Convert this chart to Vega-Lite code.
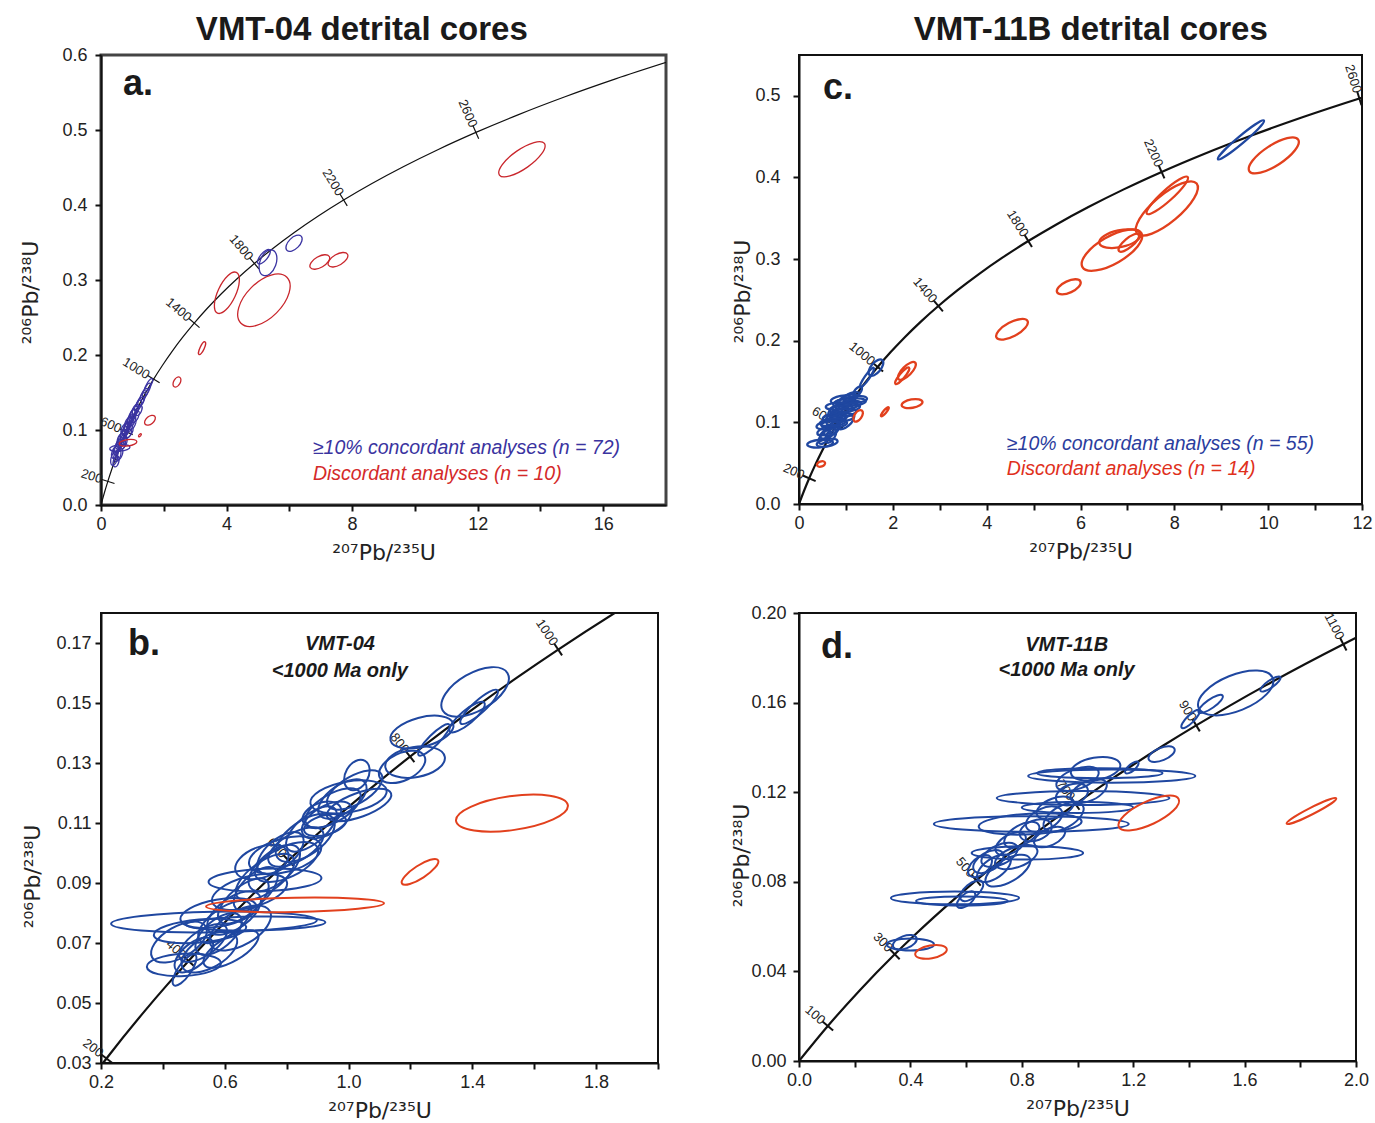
{
  "$schema": "https://vega.github.io/schema/vega-lite/v6.json",
  "autosize": {"type": "pad"},
  "padding": {"left": 17, "top": 12, "right": 5, "bottom": 5},
  "background": "white",
  "columns": 2,
  "bounds": "flush",
  "spacing": {"row": 108, "column": 133},
  "resolve": {"scale": {"color": "independent", "size": "independent", "shape": "independent", "angle": "independent"}},
  "config": {
    "font": "Liberation Sans",
    "view": {"stroke": "#111", "strokeWidth": 2},
    "axis": {"grid": false, "domainColor": "#111", "domainWidth": 2, "tickColor": "#111", "tickWidth": 2, "tickSize": 6,
      "labelFont": "Liberation Sans", "labelFontSize": 18, "labelColor": "#222",
      "titleFont": "DejaVu Sans", "titleFontSize": 22, "titleFontWeight": "normal", "titleColor": "#222",
      "labelPadding": 4, "labelFlush": false, "labelOverlap": false}
  },
  "datasets": {
    "concordia": [
      {"age": 0, "pb207u235": 0, "pb206u238": 0},
      {"age": 100, "pb207u235": 0.1035, "pb206u238": 0.015633},
      {"age": 200, "pb207u235": 0.21771, "pb206u238": 0.031511},
      {"age": 300, "pb207u235": 0.34374, "pb206u238": 0.047637},
      {"age": 350, "pb207u235": 0.41157, "pb206u238": 0.05579},
      {"age": 400, "pb207u235": 0.48281, "pb206u238": 0.064015},
      {"age": 450, "pb207u235": 0.55765, "pb206u238": 0.0723},
      {"age": 500, "pb207u235": 0.63628, "pb206u238": 0.080649},
      {"age": 550, "pb207u235": 0.71887, "pb206u238": 0.08907},
      {"age": 600, "pb207u235": 0.80563, "pb206u238": 0.097543},
      {"age": 650, "pb207u235": 0.89677, "pb206u238": 0.10609},
      {"age": 700, "pb207u235": 0.99251, "pb206u238": 0.114701},
      {"age": 750, "pb207u235": 1.09309, "pb206u238": 0.12338},
      {"age": 800, "pb207u235": 1.19873, "pb206u238": 0.132128},
      {"age": 850, "pb207u235": 1.3097, "pb206u238": 0.14094},
      {"age": 900, "pb207u235": 1.42629, "pb206u238": 0.149827},
      {"age": 950, "pb207u235": 1.54876, "pb206u238": 0.15878},
      {"age": 1000, "pb207u235": 1.6774, "pb206u238": 0.167802},
      {"age": 1100, "pb207u235": 1.95451, "pb206u238": 0.186059},
      {"age": 1200, "pb207u235": 2.26029, "pb206u238": 0.204601},
      {"age": 1300, "pb207u235": 2.59772, "pb206u238": 0.223433},
      {"age": 1400, "pb207u235": 2.97009, "pb206u238": 0.242558},
      {"age": 1500, "pb207u235": 3.381, "pb206u238": 0.261984},
      {"age": 1600, "pb207u235": 3.8344, "pb206u238": 0.281714},
      {"age": 1700, "pb207u235": 4.33475, "pb206u238": 0.301752},
      {"age": 1800, "pb207u235": 4.88689, "pb206u238": 0.322102},
      {"age": 1900, "pb207u235": 5.49617, "pb206u238": 0.342771},
      {"age": 2000, "pb207u235": 6.16849, "pb206u238": 0.363762},
      {"age": 2100, "pb207u235": 6.91041, "pb206u238": 0.385082},
      {"age": 2200, "pb207u235": 7.72912, "pb206u238": 0.406736},
      {"age": 2300, "pb207u235": 8.63256, "pb206u238": 0.428728},
      {"age": 2400, "pb207u235": 9.6295, "pb206u238": 0.451064},
      {"age": 2500, "pb207u235": 10.72962, "pb206u238": 0.473749},
      {"age": 2600, "pb207u235": 11.94362, "pb206u238": 0.496788},
      {"age": 2700, "pb207u235": 13.28325, "pb206u238": 0.520188},
      {"age": 2800, "pb207u235": 14.7616, "pb206u238": 0.54395},
      {"age": 2900, "pb207u235": 16.39292, "pb206u238": 0.568087},
      {"age": 3000, "pb207u235": 18.19315, "pb206u238": 0.592604}
    ],
    "agemarks": [
      {"panel": "a", "age": 200, "pb207u235": 0.21771, "pb206u238": 0.031511, "normal": 17.4},
      {"panel": "a", "age": 600, "pb207u235": 0.80563, "pb206u238": 0.097543, "normal": 23.6},
      {"panel": "a", "age": 1000, "pb207u235": 1.6774, "pb206u238": 0.167802, "normal": 31.4},
      {"panel": "a", "age": 1400, "pb207u235": 2.97009, "pb206u238": 0.242558, "normal": 40.4},
      {"panel": "a", "age": 1800, "pb207u235": 4.88689, "pb206u238": 0.322102, "normal": 49.8},
      {"panel": "a", "age": 2200, "pb207u235": 7.72912, "pb206u238": 0.406736, "normal": 58.8},
      {"panel": "a", "age": 2600, "pb207u235": 11.94362, "pb206u238": 0.496788, "normal": 66.5},
      {"panel": "c", "age": 200, "pb207u235": 0.21771, "pb206u238": 0.031511, "normal": 23.3},
      {"panel": "c", "age": 600, "pb207u235": 0.80563, "pb206u238": 0.097543, "normal": 31.0},
      {"panel": "c", "age": 1000, "pb207u235": 1.6774, "pb206u238": 0.167802, "normal": 39.9},
      {"panel": "c", "age": 1400, "pb207u235": 2.97009, "pb206u238": 0.242558, "normal": 49.4},
      {"panel": "c", "age": 1800, "pb207u235": 4.88689, "pb206u238": 0.322102, "normal": 58.4},
      {"panel": "c", "age": 2200, "pb207u235": 7.72912, "pb206u238": 0.406736, "normal": 66.2},
      {"panel": "c", "age": 2600, "pb207u235": 11.94362, "pb206u238": 0.496788, "normal": 72.4},
      {"panel": "b", "age": 200, "pb207u235": 0.21771, "pb206u238": 0.031511, "normal": 37.7},
      {"panel": "b", "age": 400, "pb207u235": 0.48281, "pb206u238": 0.064015, "normal": 42.4},
      {"panel": "b", "age": 600, "pb207u235": 0.80563, "pb206u238": 0.097543, "normal": 47.1},
      {"panel": "b", "age": 800, "pb207u235": 1.19873, "pb206u238": 0.132128, "normal": 51.8},
      {"panel": "b", "age": 1000, "pb207u235": 1.6774, "pb206u238": 0.167802, "normal": 56.3},
      {"panel": "d", "age": 100, "pb207u235": 0.1035, "pb206u238": 0.015633, "normal": 40.6},
      {"panel": "d", "age": 300, "pb207u235": 0.34374, "pb206u238": 0.047637, "normal": 45.3},
      {"panel": "d", "age": 500, "pb207u235": 0.63628, "pb206u238": 0.080649, "normal": 50.0},
      {"panel": "d", "age": 700, "pb207u235": 0.99251, "pb206u238": 0.114701, "normal": 54.6},
      {"panel": "d", "age": 900, "pb207u235": 1.42629, "pb206u238": 0.149827, "normal": 59.0},
      {"panel": "d", "age": 1100, "pb207u235": 1.95451, "pb206u238": 0.186059, "normal": 63.0}
    ],
    "ellipses": [
      {"panel": "a", "kind": "concordant", "pb207u235": 0.42, "pb206u238": 0.062, "len": 0.45, "aspect": 0.45, "tilt": 75},
      {"panel": "a", "kind": "concordant", "pb207u235": 0.45, "pb206u238": 0.07, "len": 0.4, "aspect": 0.5, "tilt": 70},
      {"panel": "a", "kind": "concordant", "pb207u235": 0.5, "pb206u238": 0.074, "len": 0.35, "aspect": 0.5, "tilt": 65},
      {"panel": "a", "kind": "concordant", "pb207u235": 0.55, "pb206u238": 0.078, "len": 0.45, "aspect": 0.4, "tilt": 70},
      {"panel": "a", "kind": "concordant", "pb207u235": 0.6, "pb206u238": 0.082, "len": 0.4, "aspect": 0.5, "tilt": 60},
      {"panel": "a", "kind": "concordant", "pb207u235": 0.62, "pb206u238": 0.088, "len": 0.35, "aspect": 0.5, "tilt": 70},
      {"panel": "a", "kind": "concordant", "pb207u235": 0.68, "pb206u238": 0.091, "len": 0.45, "aspect": 0.4, "tilt": 65},
      {"panel": "a", "kind": "concordant", "pb207u235": 0.72, "pb206u238": 0.094, "len": 0.35, "aspect": 0.5, "tilt": 70},
      {"panel": "a", "kind": "concordant", "pb207u235": 0.76, "pb206u238": 0.097, "len": 0.4, "aspect": 0.45, "tilt": 65},
      {"panel": "a", "kind": "concordant", "pb207u235": 0.8, "pb206u238": 0.1, "len": 0.45, "aspect": 0.4, "tilt": 70},
      {"panel": "a", "kind": "concordant", "pb207u235": 0.83, "pb206u238": 0.104, "len": 0.35, "aspect": 0.5, "tilt": 60},
      {"panel": "a", "kind": "concordant", "pb207u235": 0.86, "pb206u238": 0.108, "len": 0.45, "aspect": 0.45, "tilt": 70},
      {"panel": "a", "kind": "concordant", "pb207u235": 0.9, "pb206u238": 0.111, "len": 0.4, "aspect": 0.4, "tilt": 65},
      {"panel": "a", "kind": "concordant", "pb207u235": 0.95, "pb206u238": 0.114, "len": 0.35, "aspect": 0.5, "tilt": 70},
      {"panel": "a", "kind": "concordant", "pb207u235": 0.98, "pb206u238": 0.118, "len": 0.45, "aspect": 0.4, "tilt": 65},
      {"panel": "a", "kind": "concordant", "pb207u235": 1.02, "pb206u238": 0.121, "len": 0.35, "aspect": 0.5, "tilt": 70},
      {"panel": "a", "kind": "concordant", "pb207u235": 1.06, "pb206u238": 0.124, "len": 0.4, "aspect": 0.45, "tilt": 65},
      {"panel": "a", "kind": "concordant", "pb207u235": 1.1, "pb206u238": 0.127, "len": 0.35, "aspect": 0.5, "tilt": 70},
      {"panel": "a", "kind": "concordant", "pb207u235": 1.18, "pb206u238": 0.132, "len": 0.4, "aspect": 0.4, "tilt": 65},
      {"panel": "a", "kind": "concordant", "pb207u235": 1.25, "pb206u238": 0.137, "len": 0.35, "aspect": 0.5, "tilt": 60},
      {"panel": "a", "kind": "concordant", "pb207u235": 1.3, "pb206u238": 0.141, "len": 0.45, "aspect": 0.35, "tilt": 65},
      {"panel": "a", "kind": "concordant", "pb207u235": 1.38, "pb206u238": 0.148, "len": 0.4, "aspect": 0.4, "tilt": 60},
      {"panel": "a", "kind": "concordant", "pb207u235": 1.45, "pb206u238": 0.153, "len": 0.5, "aspect": 0.3, "tilt": 62},
      {"panel": "a", "kind": "concordant", "pb207u235": 1.52, "pb206u238": 0.16, "len": 0.45, "aspect": 0.3, "tilt": 60},
      {"panel": "a", "kind": "concordant", "pb207u235": 0.52, "pb206u238": 0.066, "len": 0.4, "aspect": 0.5, "tilt": 70},
      {"panel": "a", "kind": "concordant", "pb207u235": 0.7, "pb206u238": 0.086, "len": 0.4, "aspect": 0.45, "tilt": 70},
      {"panel": "a", "kind": "concordant", "pb207u235": 0.92, "pb206u238": 0.105, "len": 0.4, "aspect": 0.4, "tilt": 70},
      {"panel": "a", "kind": "concordant", "pb207u235": 0.6, "pb206u238": 0.076, "len": 0.65, "aspect": 0.3, "tilt": 5},
      {"panel": "a", "kind": "concordant", "pb207u235": 0.48, "pb206u238": 0.058, "len": 0.35, "aspect": 0.5, "tilt": 75},
      {"panel": "a", "kind": "concordant", "pb207u235": 0.75, "pb206u238": 0.102, "len": 0.35, "aspect": 0.5, "tilt": 65},
      {"panel": "a", "kind": "concordant", "pb207u235": 1.0, "pb206u238": 0.113, "len": 0.35, "aspect": 0.5, "tilt": 70},
      {"panel": "a", "kind": "concordant", "pb207u235": 0.7, "pb206u238": 0.082, "len": 0.4, "aspect": 0.5, "tilt": 60},
      {"panel": "a", "kind": "concordant", "pb207u235": 0.9, "pb206u238": 0.098, "len": 0.4, "aspect": 0.5, "tilt": 65},
      {"panel": "a", "kind": "concordant", "pb207u235": 1.1, "pb206u238": 0.118, "len": 0.4, "aspect": 0.45, "tilt": 65},
      {"panel": "a", "kind": "concordant", "pb207u235": 0.58, "pb206u238": 0.068, "len": 0.4, "aspect": 0.5, "tilt": 70},
      {"panel": "a", "kind": "concordant", "pb207u235": 0.85, "pb206u238": 0.095, "len": 0.35, "aspect": 0.55, "tilt": 60},
      {"panel": "a", "kind": "concordant", "pb207u235": 1.2, "pb206u238": 0.126, "len": 0.35, "aspect": 0.5, "tilt": 65},
      {"panel": "a", "kind": "concordant", "pb207u235": 0.66, "pb206u238": 0.079, "len": 0.35, "aspect": 0.55, "tilt": 60},
      {"panel": "a", "kind": "concordant", "pb207u235": 1.0, "pb206u238": 0.108, "len": 0.4, "aspect": 0.45, "tilt": 65},
      {"panel": "a", "kind": "concordant", "pb207u235": 5.19, "pb206u238": 0.331, "len": 0.57, "aspect": 0.4, "tilt": 50},
      {"panel": "a", "kind": "concordant", "pb207u235": 5.32, "pb206u238": 0.323, "len": 0.86, "aspect": 0.6, "tilt": 70},
      {"panel": "a", "kind": "concordant", "pb207u235": 6.15, "pb206u238": 0.349, "len": 0.64, "aspect": 0.55, "tilt": 45},
      {"panel": "a", "kind": "discordant", "pb207u235": 13.41, "pb206u238": 0.461, "len": 1.75, "aspect": 0.35, "tilt": 35},
      {"panel": "a", "kind": "discordant", "pb207u235": 5.19, "pb206u238": 0.273, "len": 2.07, "aspect": 0.55, "tilt": 45},
      {"panel": "a", "kind": "discordant", "pb207u235": 4.01, "pb206u238": 0.283, "len": 1.43, "aspect": 0.4, "tilt": 65},
      {"panel": "a", "kind": "discordant", "pb207u235": 6.97, "pb206u238": 0.324, "len": 0.7, "aspect": 0.5, "tilt": 30},
      {"panel": "a", "kind": "discordant", "pb207u235": 7.55, "pb206u238": 0.327, "len": 0.7, "aspect": 0.5, "tilt": 30},
      {"panel": "a", "kind": "discordant", "pb207u235": 3.22, "pb206u238": 0.209, "len": 0.45, "aspect": 0.3, "tilt": 65},
      {"panel": "a", "kind": "discordant", "pb207u235": 2.42, "pb206u238": 0.164, "len": 0.35, "aspect": 0.6, "tilt": 60},
      {"panel": "a", "kind": "discordant", "pb207u235": 1.56, "pb206u238": 0.113, "len": 0.4, "aspect": 0.6, "tilt": 40},
      {"panel": "a", "kind": "discordant", "pb207u235": 1.24, "pb206u238": 0.093, "len": 0.12, "aspect": 0.5, "tilt": 50},
      {"panel": "a", "kind": "discordant", "pb207u235": 0.86, "pb206u238": 0.083, "len": 0.57, "aspect": 0.35, "tilt": 8},

      {"panel": "c", "kind": "concordant", "pb207u235": 0.45, "pb206u238": 0.074, "len": 0.55, "aspect": 0.3, "tilt": 5},
      {"panel": "c", "kind": "concordant", "pb207u235": 0.6, "pb206u238": 0.075, "len": 0.45, "aspect": 0.35, "tilt": 10},
      {"panel": "c", "kind": "concordant", "pb207u235": 0.55, "pb206u238": 0.082, "len": 0.35, "aspect": 0.5, "tilt": 50},
      {"panel": "c", "kind": "concordant", "pb207u235": 0.65, "pb206u238": 0.088, "len": 0.45, "aspect": 0.4, "tilt": 30},
      {"panel": "c", "kind": "concordant", "pb207u235": 0.7, "pb206u238": 0.092, "len": 0.4, "aspect": 0.5, "tilt": 40},
      {"panel": "c", "kind": "concordant", "pb207u235": 0.62, "pb206u238": 0.097, "len": 0.5, "aspect": 0.35, "tilt": 10},
      {"panel": "c", "kind": "concordant", "pb207u235": 0.75, "pb206u238": 0.098, "len": 0.55, "aspect": 0.3, "tilt": 5},
      {"panel": "c", "kind": "concordant", "pb207u235": 0.8, "pb206u238": 0.103, "len": 0.45, "aspect": 0.4, "tilt": 20},
      {"panel": "c", "kind": "concordant", "pb207u235": 0.7, "pb206u238": 0.106, "len": 0.4, "aspect": 0.4, "tilt": 10},
      {"panel": "c", "kind": "concordant", "pb207u235": 0.88, "pb206u238": 0.106, "len": 0.6, "aspect": 0.3, "tilt": 5},
      {"panel": "c", "kind": "concordant", "pb207u235": 0.85, "pb206u238": 0.11, "len": 0.45, "aspect": 0.4, "tilt": 30},
      {"panel": "c", "kind": "concordant", "pb207u235": 0.95, "pb206u238": 0.112, "len": 0.55, "aspect": 0.3, "tilt": 8},
      {"panel": "c", "kind": "concordant", "pb207u235": 0.9, "pb206u238": 0.116, "len": 0.5, "aspect": 0.35, "tilt": 5},
      {"panel": "c", "kind": "concordant", "pb207u235": 1.0, "pb206u238": 0.118, "len": 0.6, "aspect": 0.3, "tilt": 5},
      {"panel": "c", "kind": "concordant", "pb207u235": 1.05, "pb206u238": 0.121, "len": 0.55, "aspect": 0.3, "tilt": 10},
      {"panel": "c", "kind": "concordant", "pb207u235": 0.95, "pb206u238": 0.124, "len": 0.45, "aspect": 0.35, "tilt": 10},
      {"panel": "c", "kind": "concordant", "pb207u235": 1.1, "pb206u238": 0.125, "len": 0.65, "aspect": 0.25, "tilt": 3},
      {"panel": "c", "kind": "concordant", "pb207u235": 1.05, "pb206u238": 0.129, "len": 0.4, "aspect": 0.4, "tilt": 20},
      {"panel": "c", "kind": "concordant", "pb207u235": 1.2, "pb206u238": 0.128, "len": 0.5, "aspect": 0.3, "tilt": 5},
      {"panel": "c", "kind": "concordant", "pb207u235": 1.0, "pb206u238": 0.1, "len": 0.4, "aspect": 0.45, "tilt": 40},
      {"panel": "c", "kind": "concordant", "pb207u235": 1.25, "pb206u238": 0.138, "len": 0.25, "aspect": 0.5, "tilt": 50},
      {"panel": "c", "kind": "concordant", "pb207u235": 0.78, "pb206u238": 0.114, "len": 0.35, "aspect": 0.5, "tilt": 30},
      {"panel": "c", "kind": "concordant", "pb207u235": 0.68, "pb206u238": 0.084, "len": 0.35, "aspect": 0.5, "tilt": 60},
      {"panel": "c", "kind": "concordant", "pb207u235": 0.58, "pb206u238": 0.09, "len": 0.4, "aspect": 0.4, "tilt": 20},
      {"panel": "c", "kind": "concordant", "pb207u235": 0.72, "pb206u238": 0.1, "len": 0.55, "aspect": 0.3, "tilt": 5},
      {"panel": "c", "kind": "concordant", "pb207u235": 0.82, "pb206u238": 0.12, "len": 0.5, "aspect": 0.3, "tilt": 5},
      {"panel": "c", "kind": "concordant", "pb207u235": 0.9, "pb206u238": 0.128, "len": 0.45, "aspect": 0.35, "tilt": 10},
      {"panel": "c", "kind": "concordant", "pb207u235": 1.12, "pb206u238": 0.132, "len": 0.35, "aspect": 0.4, "tilt": 20},
      {"panel": "c", "kind": "concordant", "pb207u235": 1.45, "pb206u238": 0.155, "len": 0.5, "aspect": 0.2, "tilt": 55},
      {"panel": "c", "kind": "concordant", "pb207u235": 1.64, "pb206u238": 0.167, "len": 0.42, "aspect": 0.5, "tilt": 50},
      {"panel": "c", "kind": "concordant", "pb207u235": 9.42, "pb206u238": 0.446, "len": 1.28, "aspect": 0.12, "tilt": 40},
      {"panel": "c", "kind": "discordant", "pb207u235": 10.12, "pb206u238": 0.427, "len": 1.24, "aspect": 0.35, "tilt": 33},
      {"panel": "c", "kind": "discordant", "pb207u235": 7.84, "pb206u238": 0.362, "len": 1.66, "aspect": 0.35, "tilt": 40},
      {"panel": "c", "kind": "discordant", "pb207u235": 7.85, "pb206u238": 0.378, "len": 1.17, "aspect": 0.2, "tilt": 42},
      {"panel": "c", "kind": "discordant", "pb207u235": 6.67, "pb206u238": 0.311, "len": 1.45, "aspect": 0.4, "tilt": 30},
      {"panel": "c", "kind": "discordant", "pb207u235": 6.84, "pb206u238": 0.325, "len": 0.9, "aspect": 0.4, "tilt": 12},
      {"panel": "c", "kind": "discordant", "pb207u235": 7.03, "pb206u238": 0.32, "len": 0.55, "aspect": 0.35, "tilt": 40},
      {"panel": "c", "kind": "discordant", "pb207u235": 5.75, "pb206u238": 0.266, "len": 0.55, "aspect": 0.45, "tilt": 25},
      {"panel": "c", "kind": "discordant", "pb207u235": 4.54, "pb206u238": 0.214, "len": 0.75, "aspect": 0.4, "tilt": 28},
      {"panel": "c", "kind": "discordant", "pb207u235": 2.3, "pb206u238": 0.163, "len": 0.5, "aspect": 0.4, "tilt": 45},
      {"panel": "c", "kind": "discordant", "pb207u235": 2.2, "pb206u238": 0.157, "len": 0.45, "aspect": 0.25, "tilt": 50},
      {"panel": "c", "kind": "discordant", "pb207u235": 2.41, "pb206u238": 0.123, "len": 0.45, "aspect": 0.4, "tilt": 10},
      {"panel": "c", "kind": "discordant", "pb207u235": 1.83, "pb206u238": 0.113, "len": 0.25, "aspect": 0.25, "tilt": 50},
      {"panel": "c", "kind": "discordant", "pb207u235": 1.26, "pb206u238": 0.108, "len": 0.28, "aspect": 0.55, "tilt": 55},
      {"panel": "c", "kind": "discordant", "pb207u235": 0.47, "pb206u238": 0.049, "len": 0.18, "aspect": 0.6, "tilt": 20},

      {"panel": "b", "kind": "concordant", "pb207u235": 1.409, "pb206u238": 0.1537, "len": 0.242, "aspect": 0.5, "tilt": 30},
      {"panel": "b", "kind": "concordant", "pb207u235": 1.422, "pb206u238": 0.1487, "len": 0.16, "aspect": 0.25, "tilt": 42},
      {"panel": "b", "kind": "concordant", "pb207u235": 1.383, "pb206u238": 0.1453, "len": 0.145, "aspect": 0.3, "tilt": 40},
      {"panel": "b", "kind": "concordant", "pb207u235": 1.237, "pb206u238": 0.1403, "len": 0.21, "aspect": 0.45, "tilt": 15},
      {"panel": "b", "kind": "concordant", "pb207u235": 1.276, "pb206u238": 0.1377, "len": 0.14, "aspect": 0.25, "tilt": 45},
      {"panel": "b", "kind": "concordant", "pb207u235": 1.215, "pb206u238": 0.1303, "len": 0.195, "aspect": 0.5, "tilt": 10},
      {"panel": "b", "kind": "concordant", "pb207u235": 1.173, "pb206u238": 0.1287, "len": 0.16, "aspect": 0.55, "tilt": 25},
      {"panel": "b", "kind": "concordant", "pb207u235": 1.027, "pb206u238": 0.126, "len": 0.105, "aspect": 0.7, "tilt": 60},
      {"panel": "b", "kind": "concordant", "pb207u235": 1.0, "pb206u238": 0.1187, "len": 0.25, "aspect": 0.4, "tilt": 10},
      {"panel": "b", "kind": "concordant", "pb207u235": 1.034, "pb206u238": 0.116, "len": 0.22, "aspect": 0.35, "tilt": 20},
      {"panel": "b", "kind": "concordant", "pb207u235": 0.914, "pb206u238": 0.1127, "len": 0.13, "aspect": 0.6, "tilt": 20},
      {"panel": "b", "kind": "concordant", "pb207u235": 0.924, "pb206u238": 0.1093, "len": 0.14, "aspect": 0.45, "tilt": 15},
      {"panel": "b", "kind": "concordant", "pb207u235": 0.565, "pb206u238": 0.077, "len": 0.665, "aspect": 0.1, "tilt": 1},
      {"panel": "b", "kind": "concordant", "pb207u235": 0.73, "pb206u238": 0.091, "len": 0.365, "aspect": 0.2, "tilt": 2},
      {"panel": "b", "kind": "concordant", "pb207u235": 0.795, "pb206u238": 0.0993, "len": 0.24, "aspect": 0.45, "tilt": 15},
      {"panel": "b", "kind": "concordant", "pb207u235": 0.468, "pb206u238": 0.0627, "len": 0.24, "aspect": 0.3, "tilt": 3},
      {"panel": "b", "kind": "concordant", "pb207u235": 0.452, "pb206u238": 0.0703, "len": 0.2, "aspect": 0.5, "tilt": 30},
      {"panel": "b", "kind": "concordant", "pb207u235": 0.7, "pb206u238": 0.0765, "len": 0.45, "aspect": 0.1, "tilt": 1},
      {"panel": "b", "kind": "concordant", "pb207u235": 0.47, "pb206u238": 0.061, "len": 0.12, "aspect": 0.35, "tilt": 55},
      {"panel": "b", "kind": "concordant", "pb207u235": 0.5, "pb206u238": 0.066, "len": 0.15, "aspect": 0.5, "tilt": 40},
      {"panel": "b", "kind": "concordant", "pb207u235": 0.53, "pb206u238": 0.07, "len": 0.18, "aspect": 0.45, "tilt": 35},
      {"panel": "b", "kind": "concordant", "pb207u235": 0.55, "pb206u238": 0.067, "len": 0.2, "aspect": 0.5, "tilt": 30},
      {"panel": "b", "kind": "concordant", "pb207u235": 0.58, "pb206u238": 0.073, "len": 0.18, "aspect": 0.5, "tilt": 40},
      {"panel": "b", "kind": "concordant", "pb207u235": 0.6, "pb206u238": 0.077, "len": 0.2, "aspect": 0.45, "tilt": 35},
      {"panel": "b", "kind": "concordant", "pb207u235": 0.63, "pb206u238": 0.08, "len": 0.2, "aspect": 0.5, "tilt": 35},
      {"panel": "b", "kind": "concordant", "pb207u235": 0.66, "pb206u238": 0.084, "len": 0.2, "aspect": 0.45, "tilt": 40},
      {"panel": "b", "kind": "concordant", "pb207u235": 0.58, "pb206u238": 0.08, "len": 0.25, "aspect": 0.35, "tilt": 10},
      {"panel": "b", "kind": "concordant", "pb207u235": 0.52, "pb206u238": 0.074, "len": 0.3, "aspect": 0.25, "tilt": 5},
      {"panel": "b", "kind": "concordant", "pb207u235": 0.65, "pb206u238": 0.075, "len": 0.22, "aspect": 0.5, "tilt": 30},
      {"panel": "b", "kind": "concordant", "pb207u235": 0.7, "pb206u238": 0.088, "len": 0.18, "aspect": 0.5, "tilt": 45},
      {"panel": "b", "kind": "concordant", "pb207u235": 0.73, "pb206u238": 0.092, "len": 0.22, "aspect": 0.45, "tilt": 35},
      {"panel": "b", "kind": "concordant", "pb207u235": 0.76, "pb206u238": 0.095, "len": 0.2, "aspect": 0.5, "tilt": 40},
      {"panel": "b", "kind": "concordant", "pb207u235": 0.8, "pb206u238": 0.097, "len": 0.22, "aspect": 0.45, "tilt": 25},
      {"panel": "b", "kind": "concordant", "pb207u235": 0.78, "pb206u238": 0.1, "len": 0.18, "aspect": 0.5, "tilt": 40},
      {"panel": "b", "kind": "concordant", "pb207u235": 0.83, "pb206u238": 0.102, "len": 0.2, "aspect": 0.45, "tilt": 30},
      {"panel": "b", "kind": "concordant", "pb207u235": 0.86, "pb206u238": 0.105, "len": 0.22, "aspect": 0.5, "tilt": 35},
      {"panel": "b", "kind": "concordant", "pb207u235": 0.72, "pb206u238": 0.097, "len": 0.18, "aspect": 0.55, "tilt": 20},
      {"panel": "b", "kind": "concordant", "pb207u235": 0.88, "pb206u238": 0.108, "len": 0.2, "aspect": 0.45, "tilt": 40},
      {"panel": "b", "kind": "concordant", "pb207u235": 0.93, "pb206u238": 0.111, "len": 0.18, "aspect": 0.5, "tilt": 30},
      {"panel": "b", "kind": "concordant", "pb207u235": 0.95, "pb206u238": 0.115, "len": 0.2, "aspect": 0.45, "tilt": 30},
      {"panel": "b", "kind": "concordant", "pb207u235": 0.98, "pb206u238": 0.118, "len": 0.18, "aspect": 0.5, "tilt": 35},
      {"panel": "b", "kind": "concordant", "pb207u235": 1.02, "pb206u238": 0.121, "len": 0.2, "aspect": 0.45, "tilt": 30},
      {"panel": "b", "kind": "concordant", "pb207u235": 0.68, "pb206u238": 0.087, "len": 0.25, "aspect": 0.4, "tilt": 15},
      {"panel": "b", "kind": "concordant", "pb207u235": 0.62, "pb206u238": 0.068, "len": 0.2, "aspect": 0.4, "tilt": 30},
      {"panel": "b", "kind": "discordant", "pb207u235": 1.528, "pb206u238": 0.1133, "len": 0.365, "aspect": 0.3, "tilt": 8},
      {"panel": "b", "kind": "discordant", "pb207u235": 1.231, "pb206u238": 0.0937, "len": 0.139, "aspect": 0.3, "tilt": 33},
      {"panel": "b", "kind": "discordant", "pb207u235": 0.827, "pb206u238": 0.0827, "len": 0.575, "aspect": 0.08, "tilt": 1},

      {"panel": "d", "kind": "concordant", "pb207u235": 1.123, "pb206u238": 0.1272, "len": 0.6, "aspect": 0.08, "tilt": 0},
      {"panel": "d", "kind": "concordant", "pb207u235": 1.08, "pb206u238": 0.1285, "len": 0.45, "aspect": 0.08, "tilt": 0},
      {"panel": "d", "kind": "concordant", "pb207u235": 1.02, "pb206u238": 0.1174, "len": 0.62, "aspect": 0.08, "tilt": 0},
      {"panel": "d", "kind": "concordant", "pb207u235": 1.0, "pb206u238": 0.1132, "len": 0.4, "aspect": 0.1, "tilt": 0},
      {"panel": "d", "kind": "concordant", "pb207u235": 0.834, "pb206u238": 0.1058, "len": 0.7, "aspect": 0.08, "tilt": 0},
      {"panel": "d", "kind": "concordant", "pb207u235": 0.83, "pb206u238": 0.1058, "len": 0.37, "aspect": 0.2, "tilt": 3},
      {"panel": "d", "kind": "concordant", "pb207u235": 0.56, "pb206u238": 0.0728, "len": 0.46, "aspect": 0.1, "tilt": 0},
      {"panel": "d", "kind": "concordant", "pb207u235": 0.585, "pb206u238": 0.0714, "len": 0.33, "aspect": 0.1, "tilt": 0},
      {"panel": "d", "kind": "concordant", "pb207u235": 0.82, "pb206u238": 0.0929, "len": 0.4, "aspect": 0.12, "tilt": 0},
      {"panel": "d", "kind": "concordant", "pb207u235": 1.065, "pb206u238": 0.1304, "len": 0.18, "aspect": 0.45, "tilt": 10},
      {"panel": "d", "kind": "concordant", "pb207u235": 1.0, "pb206u238": 0.126, "len": 0.16, "aspect": 0.45, "tilt": 20},
      {"panel": "d", "kind": "concordant", "pb207u235": 1.04, "pb206u238": 0.1205, "len": 0.14, "aspect": 0.5, "tilt": 25},
      {"panel": "d", "kind": "concordant", "pb207u235": 0.98, "pb206u238": 0.119, "len": 0.12, "aspect": 0.6, "tilt": 20},
      {"panel": "d", "kind": "concordant", "pb207u235": 0.92, "pb206u238": 0.113, "len": 0.14, "aspect": 0.5, "tilt": 20},
      {"panel": "d", "kind": "concordant", "pb207u235": 0.95, "pb206u238": 0.109, "len": 0.16, "aspect": 0.5, "tilt": 30},
      {"panel": "d", "kind": "concordant", "pb207u235": 0.88, "pb206u238": 0.108, "len": 0.14, "aspect": 0.55, "tilt": 25},
      {"panel": "d", "kind": "concordant", "pb207u235": 0.85, "pb206u238": 0.103, "len": 0.12, "aspect": 0.6, "tilt": 20},
      {"panel": "d", "kind": "concordant", "pb207u235": 0.8, "pb206u238": 0.101, "len": 0.14, "aspect": 0.5, "tilt": 30},
      {"panel": "d", "kind": "concordant", "pb207u235": 0.9, "pb206u238": 0.1, "len": 0.12, "aspect": 0.5, "tilt": 25},
      {"panel": "d", "kind": "concordant", "pb207u235": 0.76, "pb206u238": 0.097, "len": 0.12, "aspect": 0.55, "tilt": 30},
      {"panel": "d", "kind": "concordant", "pb207u235": 0.72, "pb206u238": 0.092, "len": 0.14, "aspect": 0.5, "tilt": 25},
      {"panel": "d", "kind": "concordant", "pb207u235": 0.78, "pb206u238": 0.091, "len": 0.16, "aspect": 0.45, "tilt": 20},
      {"panel": "d", "kind": "concordant", "pb207u235": 0.68, "pb206u238": 0.089, "len": 0.12, "aspect": 0.55, "tilt": 30},
      {"panel": "d", "kind": "concordant", "pb207u235": 0.7, "pb206u238": 0.086, "len": 0.14, "aspect": 0.5, "tilt": 35},
      {"panel": "d", "kind": "concordant", "pb207u235": 0.75, "pb206u238": 0.085, "len": 0.18, "aspect": 0.45, "tilt": 30},
      {"panel": "d", "kind": "concordant", "pb207u235": 0.65, "pb206u238": 0.087, "len": 0.1, "aspect": 0.6, "tilt": 40},
      {"panel": "d", "kind": "concordant", "pb207u235": 0.62, "pb206u238": 0.076, "len": 0.1, "aspect": 0.5, "tilt": 40},
      {"panel": "d", "kind": "concordant", "pb207u235": 0.6, "pb206u238": 0.072, "len": 0.08, "aspect": 0.5, "tilt": 40},
      {"panel": "d", "kind": "concordant", "pb207u235": 0.38, "pb206u238": 0.053, "len": 0.09, "aspect": 0.5, "tilt": 20},
      {"panel": "d", "kind": "concordant", "pb207u235": 0.4, "pb206u238": 0.052, "len": 0.17, "aspect": 0.25, "tilt": 0},
      {"panel": "d", "kind": "concordant", "pb207u235": 1.568, "pb206u238": 0.1643, "len": 0.287, "aspect": 0.45, "tilt": 22},
      {"panel": "d", "kind": "concordant", "pb207u235": 1.478, "pb206u238": 0.1594, "len": 0.105, "aspect": 0.3, "tilt": 35},
      {"panel": "d", "kind": "concordant", "pb207u235": 1.406, "pb206u238": 0.1527, "len": 0.09, "aspect": 0.3, "tilt": 45},
      {"panel": "d", "kind": "concordant", "pb207u235": 1.693, "pb206u238": 0.1683, "len": 0.087, "aspect": 0.3, "tilt": 35},
      {"panel": "d", "kind": "concordant", "pb207u235": 1.302, "pb206u238": 0.137, "len": 0.1, "aspect": 0.45, "tilt": 22},
      {"panel": "d", "kind": "concordant", "pb207u235": 1.195, "pb206u238": 0.131, "len": 0.06, "aspect": 0.4, "tilt": 40},
      {"panel": "d", "kind": "discordant", "pb207u235": 1.256, "pb206u238": 0.1107, "len": 0.237, "aspect": 0.35, "tilt": 25},
      {"panel": "d", "kind": "discordant", "pb207u235": 1.84, "pb206u238": 0.1116, "len": 0.2, "aspect": 0.12, "tilt": 27},
      {"panel": "d", "kind": "discordant", "pb207u235": 0.474, "pb206u238": 0.0487, "len": 0.115, "aspect": 0.4, "tilt": 10}
    ]
  },
  "concat": [
    {
      "width": 565, "height": 450,
      "view": {"stroke": "#444", "strokeWidth": 3},
      "layer": [
        {
          "data": {"name": "concordia"},
          "mark": {"type": "line", "clip": true, "color": "#111", "strokeWidth": 1.2, "interpolate": "monotone"},
          "encoding": {
            "x": {"field": "pb207u235", "type": "quantitative", "scale": {"domain": [0, 18], "nice": false, "zero": false},
              "axis": {"title": "²⁰⁷Pb/²³⁵U", "values": [0, 2, 4, 6, 8, 10, 12, 14, 16], "format": "d", "labelExpr": "datum.value % 4 === 0 ? datum.label : ''", "titlePadding": 9}},
            "y": {"field": "pb206u238", "type": "quantitative", "scale": {"domain": [0, 0.6], "nice": false, "zero": false},
              "axis": {"title": "²⁰⁶Pb/²³⁸U", "values": [0, 0.1, 0.2, 0.3, 0.4, 0.5, 0.6], "format": ".1f", "labelPadding": 8, "titleX": -71, "titleY": 237, "titleBaseline": "middle"}},
            "order": {"field": "age", "type": "quantitative"}
          }
        },
        {
          "data": {"name": "agemarks"},
          "transform": [{"filter": "datum.panel === 'a'"}],
          "mark": {"type": "point", "shape": "M -1 0 L 1 0", "size": 196, "filled": false, "color": "#111", "strokeWidth": 1.2, "opacity": 1},
          "encoding": {
            "x": {"field": "pb207u235", "type": "quantitative"},
            "y": {"field": "pb206u238", "type": "quantitative"},
            "angle": {"field": "normal", "type": "quantitative", "scale": null}
          }
        },
        {
          "data": {"name": "agemarks"},
          "transform": [{"filter": "datum.panel === 'a'"}],
          "mark": {"type": "text", "align": "right", "baseline": "middle", "dx": -6, "fontSize": 13, "color": "#222"},
          "encoding": {
            "x": {"field": "pb207u235", "type": "quantitative"},
            "y": {"field": "pb206u238", "type": "quantitative"},
            "angle": {"field": "normal", "type": "quantitative", "scale": null},
            "text": {"field": "age", "type": "quantitative", "format": "d"}
          }
        },
        {
          "data": {"name": "ellipses"},
          "transform": [{"filter": "datum.panel === 'a'"}],
          "mark": {"type": "point", "filled": false, "strokeWidth": 1.3, "opacity": 1},
          "encoding": {
            "x": {"field": "pb207u235", "type": "quantitative"},
            "y": {"field": "pb206u238", "type": "quantitative"},
            "color": {"field": "kind", "type": "nominal", "scale": {"domain": ["concordant", "discordant"], "range": ["#3b34a2", "#c9262c"]}, "legend": null},
            "shape": {"field": "aspect", "type": "ordinal", "legend": null, "scale": {"domain": [0.08, 0.1, 0.12, 0.2, 0.25, 0.3, 0.35, 0.4, 0.45, 0.5, 0.55, 0.6, 0.7],
              "range": ["M -1 0 A 1 0.08 0 1 1 1 0 A 1 0.08 0 1 1 -1 0 Z", "M -1 0 A 1 0.1 0 1 1 1 0 A 1 0.1 0 1 1 -1 0 Z", "M -1 0 A 1 0.12 0 1 1 1 0 A 1 0.12 0 1 1 -1 0 Z", "M -1 0 A 1 0.2 0 1 1 1 0 A 1 0.2 0 1 1 -1 0 Z", "M -1 0 A 1 0.25 0 1 1 1 0 A 1 0.25 0 1 1 -1 0 Z", "M -1 0 A 1 0.3 0 1 1 1 0 A 1 0.3 0 1 1 -1 0 Z", "M -1 0 A 1 0.35 0 1 1 1 0 A 1 0.35 0 1 1 -1 0 Z", "M -1 0 A 1 0.4 0 1 1 1 0 A 1 0.4 0 1 1 -1 0 Z", "M -1 0 A 1 0.45 0 1 1 1 0 A 1 0.45 0 1 1 -1 0 Z", "M -1 0 A 1 0.5 0 1 1 1 0 A 1 0.5 0 1 1 -1 0 Z", "M -1 0 A 1 0.55 0 1 1 1 0 A 1 0.55 0 1 1 -1 0 Z", "M -1 0 A 1 0.6 0 1 1 1 0 A 1 0.6 0 1 1 -1 0 Z", "M -1 0 A 1 0.7 0 1 1 1 0 A 1 0.7 0 1 1 -1 0 Z"]}},
            "size": {"field": "len", "type": "quantitative", "legend": null, "scale": {"type": "pow", "exponent": 2, "domain": [0, 18], "range": [0, 319225]}},
            "angle": {"field": "tilt", "type": "quantitative", "scale": {"domain": [0, 180], "range": [0, -180]}}
          }
        },
        {
          "data": {"values": [{"note": "VMT-04 detrital cores"}]},
          "mark": {"type": "text", "align": "center", "baseline": "alphabetic", "fontSize": 33, "fontWeight": "bold", "color": "#1a1a1a"},
          "encoding": {"x": {"datum": 8.31}, "y": {"datum": 0.62}, "text": {"field": "note"}}
        },
        {
          "data": {"values": [{"note": "a."}]},
          "mark": {"type": "text", "align": "left", "baseline": "middle", "fontSize": 36, "fontWeight": "bold", "color": "#1a1a1a"},
          "encoding": {"x": {"datum": 0.7}, "y": {"datum": 0.561}, "text": {"field": "note"}}
        },
        {
          "data": {"values": [{"note": "≥10% concordant analyses (n = 72)"}]},
          "mark": {"type": "text", "align": "left", "baseline": "middle", "fontSize": 19.5, "fontStyle": "italic", "color": "#3a33a0"},
          "encoding": {"x": {"datum": 6.75}, "y": {"datum": 0.076}, "text": {"field": "note"}}
        },
        {
          "data": {"values": [{"note": "Discordant analyses (n = 10)"}]},
          "mark": {"type": "text", "align": "left", "baseline": "middle", "fontSize": 19.5, "fontStyle": "italic", "color": "#d42a2a"},
          "encoding": {"x": {"datum": 6.75}, "y": {"datum": 0.0413}, "text": {"field": "note"}}
        }
      ]
    },
    {
      "width": 563, "height": 449,
      "layer": [
        {
          "data": {"name": "concordia"},
          "mark": {"type": "line", "clip": true, "color": "#111", "strokeWidth": 2.2, "interpolate": "monotone"},
          "encoding": {
            "x": {"field": "pb207u235", "type": "quantitative", "scale": {"domain": [0, 12], "nice": false, "zero": false},
              "axis": {"title": "²⁰⁷Pb/²³⁵U", "values": [0, 1, 2, 3, 4, 5, 6, 7, 8, 9, 10, 11, 12], "format": "d", "labelExpr": "datum.value % 2 === 0 ? datum.label : ''", "titlePadding": 9}},
            "y": {"field": "pb206u238", "type": "quantitative", "scale": {"domain": [0, 0.55], "nice": false, "zero": false},
              "axis": {"title": "²⁰⁶Pb/²³⁸U", "values": [0, 0.1, 0.2, 0.3, 0.4, 0.5], "format": ".1f", "labelPadding": 13, "titleX": -57, "titleY": 236, "titleBaseline": "middle"}},
            "order": {"field": "age", "type": "quantitative"}
          }
        },
        {
          "data": {"name": "agemarks"},
          "transform": [{"filter": "datum.panel === 'c'"}],
          "mark": {"type": "point", "shape": "M -1 0 L 1 0", "size": 196, "filled": false, "color": "#111", "strokeWidth": 2, "opacity": 1},
          "encoding": {
            "x": {"field": "pb207u235", "type": "quantitative"},
            "y": {"field": "pb206u238", "type": "quantitative"},
            "angle": {"field": "normal", "type": "quantitative", "scale": null}
          }
        },
        {
          "data": {"name": "agemarks"},
          "transform": [{"filter": "datum.panel === 'c'"}],
          "mark": {"type": "text", "align": "right", "baseline": "middle", "dx": -6, "fontSize": 13, "color": "#222"},
          "encoding": {
            "x": {"field": "pb207u235", "type": "quantitative"},
            "y": {"field": "pb206u238", "type": "quantitative"},
            "angle": {"field": "normal", "type": "quantitative", "scale": null},
            "text": {"field": "age", "type": "quantitative", "format": "d"}
          }
        },
        {
          "data": {"name": "ellipses"},
          "transform": [{"filter": "datum.panel === 'c'"}],
          "mark": {"type": "point", "filled": false, "strokeWidth": 2.3, "opacity": 1},
          "encoding": {
            "x": {"field": "pb207u235", "type": "quantitative"},
            "y": {"field": "pb206u238", "type": "quantitative"},
            "color": {"field": "kind", "type": "nominal", "scale": {"domain": ["concordant", "discordant"], "range": ["#1f47a0", "#e2401d"]}, "legend": null},
            "shape": {"field": "aspect", "type": "ordinal", "legend": null, "scale": {"domain": [0.08, 0.1, 0.12, 0.2, 0.25, 0.3, 0.35, 0.4, 0.45, 0.5, 0.55, 0.6, 0.7],
              "range": ["M -1 0 A 1 0.08 0 1 1 1 0 A 1 0.08 0 1 1 -1 0 Z", "M -1 0 A 1 0.1 0 1 1 1 0 A 1 0.1 0 1 1 -1 0 Z", "M -1 0 A 1 0.12 0 1 1 1 0 A 1 0.12 0 1 1 -1 0 Z", "M -1 0 A 1 0.2 0 1 1 1 0 A 1 0.2 0 1 1 -1 0 Z", "M -1 0 A 1 0.25 0 1 1 1 0 A 1 0.25 0 1 1 -1 0 Z", "M -1 0 A 1 0.3 0 1 1 1 0 A 1 0.3 0 1 1 -1 0 Z", "M -1 0 A 1 0.35 0 1 1 1 0 A 1 0.35 0 1 1 -1 0 Z", "M -1 0 A 1 0.4 0 1 1 1 0 A 1 0.4 0 1 1 -1 0 Z", "M -1 0 A 1 0.45 0 1 1 1 0 A 1 0.45 0 1 1 -1 0 Z", "M -1 0 A 1 0.5 0 1 1 1 0 A 1 0.5 0 1 1 -1 0 Z", "M -1 0 A 1 0.55 0 1 1 1 0 A 1 0.55 0 1 1 -1 0 Z", "M -1 0 A 1 0.6 0 1 1 1 0 A 1 0.6 0 1 1 -1 0 Z", "M -1 0 A 1 0.7 0 1 1 1 0 A 1 0.7 0 1 1 -1 0 Z"]}},
            "size": {"field": "len", "type": "quantitative", "legend": null, "scale": {"type": "pow", "exponent": 2, "domain": [0, 12], "range": [0, 316969]}},
            "angle": {"field": "tilt", "type": "quantitative", "scale": {"domain": [0, 180], "range": [0, -180]}}
          }
        },
        {
          "data": {"values": [{"note": "VMT-11B detrital cores"}]},
          "mark": {"type": "text", "align": "center", "baseline": "alphabetic", "fontSize": 33, "fontWeight": "bold", "color": "#1a1a1a"},
          "encoding": {"x": {"datum": 6.22}, "y": {"datum": 0.5685}, "text": {"field": "note"}}
        },
        {
          "data": {"values": [{"note": "c."}]},
          "mark": {"type": "text", "align": "left", "baseline": "middle", "fontSize": 36, "fontWeight": "bold", "color": "#1a1a1a"},
          "encoding": {"x": {"datum": 0.51}, "y": {"datum": 0.5095}, "text": {"field": "note"}}
        },
        {
          "data": {"values": [{"note": "≥10% concordant analyses (n = 55)"}]},
          "mark": {"type": "text", "align": "left", "baseline": "middle", "fontSize": 19.5, "fontStyle": "italic", "color": "#2b3d9e"},
          "encoding": {"x": {"datum": 4.43}, "y": {"datum": 0.0737}, "text": {"field": "note"}}
        },
        {
          "data": {"values": [{"note": "Discordant analyses (n = 14)"}]},
          "mark": {"type": "text", "align": "left", "baseline": "middle", "fontSize": 19.5, "fontStyle": "italic", "color": "#e0301c"},
          "encoding": {"x": {"datum": 4.43}, "y": {"datum": 0.043}, "text": {"field": "note"}}
        }
      ]
    },
    {
      "width": 557, "height": 450,
      "layer": [
        {
          "data": {"name": "concordia"},
          "mark": {"type": "line", "clip": true, "color": "#111", "strokeWidth": 2.2, "interpolate": "monotone"},
          "encoding": {
            "x": {"field": "pb207u235", "type": "quantitative", "scale": {"domain": [0.2, 2.0], "nice": false, "zero": false},
              "axis": {"title": "²⁰⁷Pb/²³⁵U", "values": [0.2, 0.4, 0.6, 0.8, 1.0, 1.2, 1.4, 1.6, 1.8, 2.0], "format": ".1f", "labelExpr": "round(datum.value * 10) % 4 === 2 ? datum.label : ''", "titlePadding": 9}},
            "y": {"field": "pb206u238", "type": "quantitative", "scale": {"domain": [0.03, 0.18], "nice": false, "zero": false},
              "axis": {"title": "²⁰⁶Pb/²³⁸U", "values": [0.03, 0.05, 0.07, 0.09, 0.11, 0.13, 0.15, 0.17], "format": ".2f", "labelPadding": 4, "titleX": -69, "titleY": 263, "titleBaseline": "middle"}},
            "order": {"field": "age", "type": "quantitative"}
          }
        },
        {
          "data": {"name": "agemarks"},
          "transform": [{"filter": "datum.panel === 'b'"}],
          "mark": {"type": "point", "shape": "M -1 0 L 1 0", "size": 196, "filled": false, "color": "#111", "strokeWidth": 2, "opacity": 1},
          "encoding": {
            "x": {"field": "pb207u235", "type": "quantitative"},
            "y": {"field": "pb206u238", "type": "quantitative"},
            "angle": {"field": "normal", "type": "quantitative", "scale": null}
          }
        },
        {
          "data": {"name": "agemarks"},
          "transform": [{"filter": "datum.panel === 'b'"}],
          "mark": {"type": "text", "align": "right", "baseline": "middle", "dx": -6, "fontSize": 13, "color": "#222"},
          "encoding": {
            "x": {"field": "pb207u235", "type": "quantitative"},
            "y": {"field": "pb206u238", "type": "quantitative"},
            "angle": {"field": "normal", "type": "quantitative", "scale": null},
            "text": {"field": "age", "type": "quantitative", "format": "d"}
          }
        },
        {
          "data": {"name": "ellipses"},
          "transform": [{"filter": "datum.panel === 'b'"}],
          "mark": {"type": "point", "filled": false, "strokeWidth": 2, "opacity": 1},
          "encoding": {
            "x": {"field": "pb207u235", "type": "quantitative"},
            "y": {"field": "pb206u238", "type": "quantitative"},
            "color": {"field": "kind", "type": "nominal", "scale": {"domain": ["concordant", "discordant"], "range": ["#1f47a0", "#e2401d"]}, "legend": null},
            "shape": {"field": "aspect", "type": "ordinal", "legend": null, "scale": {"domain": [0.08, 0.1, 0.12, 0.2, 0.25, 0.3, 0.35, 0.4, 0.45, 0.5, 0.55, 0.6, 0.7],
              "range": ["M -1 0 A 1 0.08 0 1 1 1 0 A 1 0.08 0 1 1 -1 0 Z", "M -1 0 A 1 0.1 0 1 1 1 0 A 1 0.1 0 1 1 -1 0 Z", "M -1 0 A 1 0.12 0 1 1 1 0 A 1 0.12 0 1 1 -1 0 Z", "M -1 0 A 1 0.2 0 1 1 1 0 A 1 0.2 0 1 1 -1 0 Z", "M -1 0 A 1 0.25 0 1 1 1 0 A 1 0.25 0 1 1 -1 0 Z", "M -1 0 A 1 0.3 0 1 1 1 0 A 1 0.3 0 1 1 -1 0 Z", "M -1 0 A 1 0.35 0 1 1 1 0 A 1 0.35 0 1 1 -1 0 Z", "M -1 0 A 1 0.4 0 1 1 1 0 A 1 0.4 0 1 1 -1 0 Z", "M -1 0 A 1 0.45 0 1 1 1 0 A 1 0.45 0 1 1 -1 0 Z", "M -1 0 A 1 0.5 0 1 1 1 0 A 1 0.5 0 1 1 -1 0 Z", "M -1 0 A 1 0.55 0 1 1 1 0 A 1 0.55 0 1 1 -1 0 Z", "M -1 0 A 1 0.6 0 1 1 1 0 A 1 0.6 0 1 1 -1 0 Z", "M -1 0 A 1 0.7 0 1 1 1 0 A 1 0.7 0 1 1 -1 0 Z"]}},
            "size": {"field": "len", "type": "quantitative", "legend": null, "scale": {"type": "pow", "exponent": 2, "domain": [0, 1.8], "range": [0, 310249]}},
            "angle": {"field": "tilt", "type": "quantitative", "scale": {"domain": [0, 180], "range": [0, -180]}}
          }
        },
        {
          "data": {"values": [{"note": "b."}]},
          "mark": {"type": "text", "align": "left", "baseline": "middle", "fontSize": 36, "fontWeight": "bold", "color": "#1a1a1a"},
          "encoding": {"x": {"datum": 0.287}, "y": {"datum": 0.1697}, "text": {"field": "note"}}
        },
        {
          "data": {"values": [{"note": "VMT-04"}]},
          "mark": {"type": "text", "align": "center", "baseline": "middle", "fontSize": 20, "fontWeight": "bold", "fontStyle": "italic", "color": "#1a1a1a"},
          "encoding": {"x": {"datum": 0.972}, "y": {"datum": 0.1697}, "text": {"field": "note"}}
        },
        {
          "data": {"values": [{"note": "<1000 Ma only"}]},
          "mark": {"type": "text", "align": "center", "baseline": "middle", "fontSize": 20, "fontWeight": "bold", "fontStyle": "italic", "color": "#1a1a1a"},
          "encoding": {"x": {"datum": 0.972}, "y": {"datum": 0.1607}, "text": {"field": "note"}}
        }
      ]
    },
    {
      "width": 557, "height": 448,
      "layer": [
        {
          "data": {"name": "concordia"},
          "mark": {"type": "line", "clip": true, "color": "#111", "strokeWidth": 2.2, "interpolate": "monotone"},
          "encoding": {
            "x": {"field": "pb207u235", "type": "quantitative", "scale": {"domain": [0, 2.0], "nice": false, "zero": false},
              "axis": {"title": "²⁰⁷Pb/²³⁵U", "values": [0, 0.2, 0.4, 0.6, 0.8, 1.0, 1.2, 1.4, 1.6, 1.8, 2.0], "format": ".1f", "labelExpr": "round(datum.value * 10) % 4 === 0 ? datum.label : ''", "titlePadding": 9}},
            "y": {"field": "pb206u238", "type": "quantitative", "scale": {"domain": [0, 0.2], "nice": false, "zero": false},
              "axis": {"title": "²⁰⁶Pb/²³⁸U", "values": [0, 0.04, 0.08, 0.12, 0.16, 0.2], "format": ".2f", "labelPadding": 7, "titleX": -58, "titleY": 242, "titleBaseline": "middle"}},
            "order": {"field": "age", "type": "quantitative"}
          }
        },
        {
          "data": {"name": "agemarks"},
          "transform": [{"filter": "datum.panel === 'd'"}],
          "mark": {"type": "point", "shape": "M -1 0 L 1 0", "size": 196, "filled": false, "color": "#111", "strokeWidth": 2, "opacity": 1},
          "encoding": {
            "x": {"field": "pb207u235", "type": "quantitative"},
            "y": {"field": "pb206u238", "type": "quantitative"},
            "angle": {"field": "normal", "type": "quantitative", "scale": null}
          }
        },
        {
          "data": {"name": "agemarks"},
          "transform": [{"filter": "datum.panel === 'd'"}],
          "mark": {"type": "text", "align": "right", "baseline": "middle", "dx": -6, "fontSize": 13, "color": "#222"},
          "encoding": {
            "x": {"field": "pb207u235", "type": "quantitative"},
            "y": {"field": "pb206u238", "type": "quantitative"},
            "angle": {"field": "normal", "type": "quantitative", "scale": null},
            "text": {"field": "age", "type": "quantitative", "format": "d"}
          }
        },
        {
          "data": {"name": "ellipses"},
          "transform": [{"filter": "datum.panel === 'd'"}],
          "mark": {"type": "point", "filled": false, "strokeWidth": 2, "opacity": 1},
          "encoding": {
            "x": {"field": "pb207u235", "type": "quantitative"},
            "y": {"field": "pb206u238", "type": "quantitative"},
            "color": {"field": "kind", "type": "nominal", "scale": {"domain": ["concordant", "discordant"], "range": ["#1f47a0", "#e2401d"]}, "legend": null},
            "shape": {"field": "aspect", "type": "ordinal", "legend": null, "scale": {"domain": [0.08, 0.1, 0.12, 0.2, 0.25, 0.3, 0.35, 0.4, 0.45, 0.5, 0.55, 0.6, 0.7],
              "range": ["M -1 0 A 1 0.08 0 1 1 1 0 A 1 0.08 0 1 1 -1 0 Z", "M -1 0 A 1 0.1 0 1 1 1 0 A 1 0.1 0 1 1 -1 0 Z", "M -1 0 A 1 0.12 0 1 1 1 0 A 1 0.12 0 1 1 -1 0 Z", "M -1 0 A 1 0.2 0 1 1 1 0 A 1 0.2 0 1 1 -1 0 Z", "M -1 0 A 1 0.25 0 1 1 1 0 A 1 0.25 0 1 1 -1 0 Z", "M -1 0 A 1 0.3 0 1 1 1 0 A 1 0.3 0 1 1 -1 0 Z", "M -1 0 A 1 0.35 0 1 1 1 0 A 1 0.35 0 1 1 -1 0 Z", "M -1 0 A 1 0.4 0 1 1 1 0 A 1 0.4 0 1 1 -1 0 Z", "M -1 0 A 1 0.45 0 1 1 1 0 A 1 0.45 0 1 1 -1 0 Z", "M -1 0 A 1 0.5 0 1 1 1 0 A 1 0.5 0 1 1 -1 0 Z", "M -1 0 A 1 0.55 0 1 1 1 0 A 1 0.55 0 1 1 -1 0 Z", "M -1 0 A 1 0.6 0 1 1 1 0 A 1 0.6 0 1 1 -1 0 Z", "M -1 0 A 1 0.7 0 1 1 1 0 A 1 0.7 0 1 1 -1 0 Z"]}},
            "size": {"field": "len", "type": "quantitative", "legend": null, "scale": {"type": "pow", "exponent": 2, "domain": [0, 2.0], "range": [0, 310249]}},
            "angle": {"field": "tilt", "type": "quantitative", "scale": {"domain": [0, 180], "range": [0, -180]}}
          }
        },
        {
          "data": {"values": [{"note": "d."}]},
          "mark": {"type": "text", "align": "left", "baseline": "middle", "fontSize": 36, "fontWeight": "bold", "color": "#1a1a1a"},
          "encoding": {"x": {"datum": 0.079}, "y": {"datum": 0.1848}, "text": {"field": "note"}}
        },
        {
          "data": {"values": [{"note": "VMT-11B"}]},
          "mark": {"type": "text", "align": "center", "baseline": "middle", "fontSize": 20, "fontWeight": "bold", "fontStyle": "italic", "color": "#1a1a1a"},
          "encoding": {"x": {"datum": 0.961}, "y": {"datum": 0.1857}, "text": {"field": "note"}}
        },
        {
          "data": {"values": [{"note": "<1000 Ma only"}]},
          "mark": {"type": "text", "align": "center", "baseline": "middle", "fontSize": 20, "fontWeight": "bold", "fontStyle": "italic", "color": "#1a1a1a"},
          "encoding": {"x": {"datum": 0.961}, "y": {"datum": 0.1746}, "text": {"field": "note"}}
        }
      ]
    }
  ]
}
